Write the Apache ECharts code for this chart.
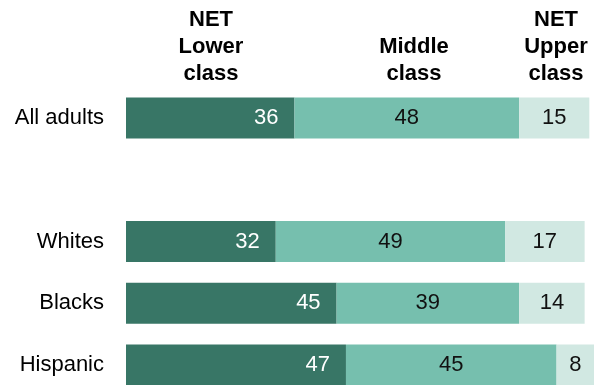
<!DOCTYPE html>
<html>
<head>
<meta charset="utf-8">
<script src="https://cdn.jsdelivr.net/npm/echarts@6/dist/echarts.min.js"></script>
<style>
  html, body { margin: 0; padding: 0; background: #fff; }
  #chart { width: 594px; height: 385px; }
</style>
</head>
<body>
<div id="chart"></div>
<script>
// Self-described social class by group (%)
const groups = ['All adults', '', 'Whites', 'Blacks', 'Hispanic'];
const lowerClass = [36, null, 32, 45, 47];
const middleClass = [48, null, 49, 39, 45];
const upperClass = [15, null, 17, 14, 8];
const headers = ['NET\nLower\nclass', 'Middle\nclass', 'NET\nUpper\nclass'];

const FONT = '"Liberation Sans", Arial, sans-serif';
const valueLabel = (color, position, distance) => ({
  show: true,
  position: position,
  distance: distance,
  color: color,
  fontFamily: FONT,
  fontSize: 22,
  formatter: p => (p.value == null ? '' : String(p.value))
});

const chart = echarts.init(document.getElementById('chart'), null, { renderer: 'canvas' });

const headerStyle = {
  fontFamily: FONT,
  fontWeight: 'bold',
  fontSize: 22,
  lineHeight: 27,
  fill: '#000',
  align: 'center',
  verticalAlign: 'bottom'
};
const headerX = [211, 414, 556];

chart.setOption({
  animation: false,
  grid: {
    left: 126, right: 0, top: 87, height: 309,
    containLabel: false,
    outerBoundsMode: 'none'
  },
  xAxis: {
    type: 'value',
    min: 0,
    max: 100,
    show: false
  },
  yAxis: {
    type: 'category',
    data: groups,
    inverse: true,
    axisLine: { show: false },
    axisTick: { show: false },
    splitLine: { show: false },
    axisLabel: {
      color: '#000',
      fontFamily: FONT,
      fontSize: 22,
      margin: 22
    }
  },
  graphic: headers.map((h, i) => ({
    type: 'text',
    x: headerX[i],
    y: 87,
    style: Object.assign({ text: h }, headerStyle)
  })),
  series: [
    {
      name: 'NET Lower class',
      type: 'bar',
      stack: 'class',
      barWidth: 41,
      data: lowerClass,
      itemStyle: { color: '#387666' },
      label: valueLabel('#fff', 'insideRight', 16)
    },
    {
      name: 'Middle class',
      type: 'bar',
      stack: 'class',
      barWidth: 41,
      data: middleClass,
      itemStyle: { color: '#76bfae' },
      label: valueLabel('#111', 'inside', 5)
    },
    {
      name: 'NET Upper class',
      type: 'bar',
      stack: 'class',
      barWidth: 41,
      data: upperClass,
      itemStyle: { color: '#d1e8e2' },
      label: valueLabel('#111', 'inside', 5)
    }
  ]
});
</script>
</body>
</html>
